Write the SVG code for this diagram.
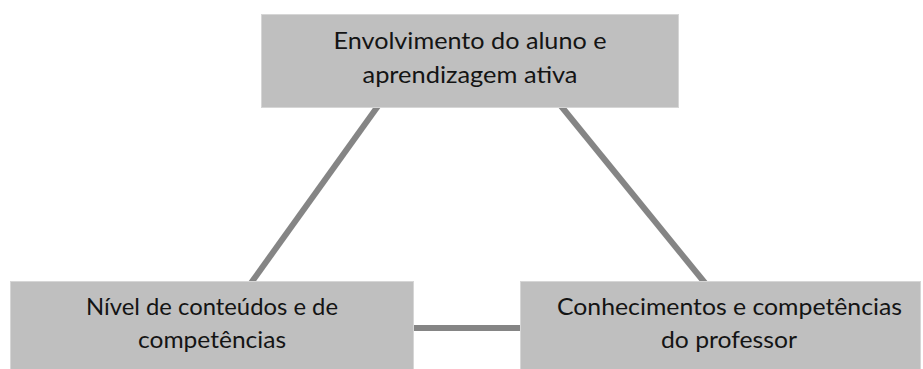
<svg xmlns="http://www.w3.org/2000/svg" width="923" height="369" viewBox="0 0 923 369">
<style>
.box{fill:#bfbfbf;stroke:#d6d6d6;stroke-width:1}
.lbl{font-family:Lato,"Open Sans","Liberation Sans",sans-serif;font-size:24px;fill:#141414;text-anchor:middle}
.con{stroke:#858585;stroke-width:6;fill:none}
</style>
<rect width="923" height="369" fill="#ffffff"/>
<g id="connectors">
<line class="con" x1="378" y1="106" x2="251" y2="283"/>
<line class="con" x1="561" y1="106" x2="705" y2="283"/>
<line class="con" x1="412" y1="328" x2="522" y2="328"/>
</g>
<g id="node-top">
<rect class="box" x="261.5" y="14.5" width="417" height="93"/>
<text class="lbl" x="470" y="49" textLength="273" lengthAdjust="spacingAndGlyphs">Envolvimento do aluno e</text>
<text class="lbl" x="470" y="83" textLength="215" lengthAdjust="spacingAndGlyphs">aprendizagem ativa</text>
</g>
<g id="node-left">
<rect class="box" x="10.5" y="281.5" width="403" height="90"/>
<text class="lbl" x="212" y="315" textLength="252" lengthAdjust="spacingAndGlyphs">Nível de conteúdos e de</text>
<text class="lbl" x="212" y="348" textLength="148" lengthAdjust="spacingAndGlyphs">competências</text>
</g>
<g id="node-right">
<rect class="box" x="520.5" y="281.5" width="400" height="90"/>
<text class="lbl" x="729.5" y="315" textLength="345" lengthAdjust="spacingAndGlyphs">Conhecimentos e competências</text>
<text class="lbl" x="729" y="348" textLength="136" lengthAdjust="spacingAndGlyphs">do professor</text>
</g>
</svg>
